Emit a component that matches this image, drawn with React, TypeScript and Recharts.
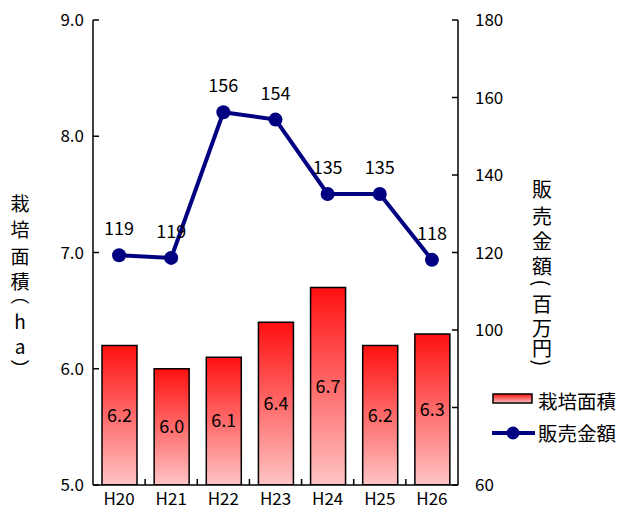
import React from 'react';
import { ComposedChart, Bar, Line, XAxis, YAxis, Legend, LabelList } from 'recharts';

const categories = ['H20', 'H21', 'H22', 'H23', 'H24', 'H25', 'H26'];
const areaValues = [6.2, 6.0, 6.1, 6.4, 6.7, 6.2, 6.3];
const salesValues = [119.3, 118.6, 156.2, 154.3, 135.1, 135.1, 118.1];
const leftTicks = [5, 6, 7, 8, 9];
const rightTicks = [60, 80, 100, 120, 140, 160, 180];
const leftTitle = ['栽', '培', '面', '積', '（', 'h', 'a', '）'];
const rightTitle = ['販', '売', '金', '額', '(', '百', '万', '円', ')'];

const data = categories.map((c, i) => ({ name: c, area: areaValues[i], sales: salesValues[i] }));

const FONT = '"Noto Sans CJK JP", "Noto Sans", sans-serif';

const XTick = (props: any) => {
  const { x, y, payload, width, visibleTicksCount, index } = props;
  const w = typeof width === 'number' ? width : 365;
  const bw = w / (visibleTicksCount || 7);
  const axisY = y - 12;
  return (
    <g>
      {index > 0 && (
        <line x1={x - bw / 2} x2={x - bw / 2} y1={axisY} y2={axisY - 6} stroke="#000" strokeWidth={1.5} />
      )}
      <text x={x} y={y} textAnchor="middle" dominantBaseline="central" fontSize={17} fontFamily={FONT} fill="#000">
        {payload.value}
      </text>
    </g>
  );
};

const VerticalTitle = ({ chars, x, ys, fontSize }: { chars: string[]; x: number; ys: number[]; fontSize: number }) => (
  <g>
    {chars.map((ch, i) => {
      const isParen = '（）()'.includes(ch);
      const dx = ch === '（' ? -0.25 * fontSize : ch === '）' ? 0.25 * fontSize : 0;
      return (
        <text
          key={i}
          x={x}
          y={ys[i]}
          dx={dx}
          textAnchor="middle"
          dominantBaseline="central"
          fontSize={fontSize}
          fontFamily={FONT}
          fill="#000"
          transform={isParen ? `rotate(90 ${x} ${ys[i]})` : undefined}
        >
          {ch}
        </text>
      );
    })}
  </g>
);

const LegendContent = () => (
  <svg width={146} height={64} style={{ display: 'block', background: '#fff' }}>
    <defs>
      <linearGradient id="legGrad" x1="0" y1="0" x2="0" y2="1">
        <stop offset="0%" stopColor="#ff1010" />
        <stop offset="100%" stopColor="#ffc4c4" />
      </linearGradient>
    </defs>
    <rect x={19} y={8} width={39} height={9} fill="url(#legGrad)" stroke="#000" strokeWidth={1.5} />
    <text x={64} y={14} dominantBaseline="central" fontSize={19.5} fontFamily={FONT} fill="#000">栽培面積</text>
    <line x1={18} x2={61} y1={47} y2={47} stroke="#000080" strokeWidth={4} />
    <circle cx={39} cy={47} r={6.5} fill="#000080" />
    <text x={64} y={46} dominantBaseline="central" fontSize={19.5} fontFamily={FONT} fill="#000">販売金額</text>
  </svg>
);

export default function App() {
  return (
    <div style={{ position: 'absolute', left: 0, top: 0, width: 620, height: 520, background: '#fff' }}>
      <ComposedChart width={620} height={520} data={data} margin={{ top: 20, right: 0, left: 0, bottom: 0 }}>
        <defs>
          <linearGradient id="barGrad" x1="0" y1="0" x2="0" y2="1">
            <stop offset="0%" stopColor="#ff1010" />
            <stop offset="100%" stopColor="#ffc4c4" />
          </linearGradient>
        </defs>
        <XAxis
          dataKey="name"
          height={35}
          tickLine={false}
          tickSize={6}
          tickMargin={6}
          axisLine={{ stroke: '#000', strokeWidth: 1.5 }}
          tick={<XTick />}
          interval={0}
        />
        <YAxis
          yAxisId="left"
          orientation="left"
          width={93}
          domain={[5, 9]}
          ticks={leftTicks}
          tickFormatter={(v: number) => v.toFixed(1)}
          tickSize={-6}
          tickMargin={15}
          axisLine={{ stroke: '#000', strokeWidth: 1.5 }}
          tickLine={{ stroke: '#000', strokeWidth: 1.5 }}
          tick={{ fontSize: 17, fontFamily: FONT, fill: '#000' }}
          allowDataOverflow
          label={{
            content: () => (
              <VerticalTitle chars={leftTitle} x={20} ys={[202, 228, 255, 280, 300, 320, 345, 364]} fontSize={19} />
            ),
          }}
        />
        <YAxis
          yAxisId="right"
          orientation="right"
          width={162}
          domain={[60, 180]}
          ticks={rightTicks}
          tickSize={-6}
          tickMargin={23}
          axisLine={{ stroke: '#000', strokeWidth: 1.5 }}
          tickLine={{ stroke: '#000', strokeWidth: 1.5 }}
          tick={{ fontSize: 17, fontFamily: FONT, fill: '#000', textAnchor: 'start' }}
          label={{
            content: () => (
              <VerticalTitle
                chars={rightTitle}
                x={542}
                ys={[188, 215, 240, 265, 283, 303, 327, 347, 363]}
                fontSize={20}
              />
            ),
          }}
        />
        <Legend
          layout="vertical"
          align="center"
          verticalAlign="middle"
          content={<LegendContent />}
          wrapperStyle={{ left: 474, top: 386, width: 146, height: 64 }}
        />
        <Bar
          yAxisId="left"
          dataKey="area"
          name="栽培面積"
          barSize={35}
          fill="url(#barGrad)"
          stroke="#000"
          strokeWidth={1.5}
          isAnimationActive={false}
        >
          <LabelList
            dataKey="area"
            position="center"
            formatter={(v: any) => Number(v).toFixed(1)}
            style={{ fontSize: 18, fontFamily: FONT, fill: '#000' }}
          />
        </Bar>
        <Line
          yAxisId="right"
          dataKey="sales"
          name="販売金額"
          stroke="#000080"
          strokeWidth={4}
          dot={{ r: 7, fill: '#000080', stroke: '#000080', strokeWidth: 0 }}
          activeDot={false}
          isAnimationActive={false}
        >
          <LabelList
            dataKey="sales"
            position="top"
            offset={20}
            formatter={(v: any) => String(Math.round(Number(v)))}
            style={{ fontSize: 18, fontFamily: FONT, fill: '#000' }}
          />
        </Line>
      </ComposedChart>
    </div>
  );
}
